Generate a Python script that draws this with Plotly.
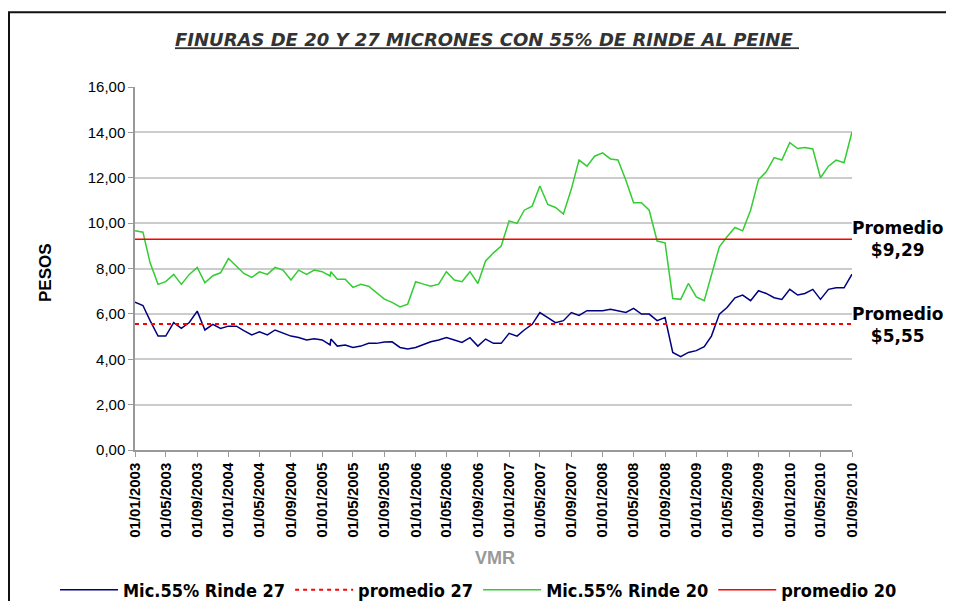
import plotly.graph_objects as go

# ---- data ----
fechas = [
    "2003-01-01", "2003-02-01", "2003-03-01", "2003-04-01", "2003-05-01", "2003-06-01",
    "2003-07-01", "2003-08-01", "2003-09-01", "2003-10-01", "2003-11-01", "2003-12-01",
    "2004-01-01", "2004-02-01", "2004-03-01", "2004-04-01", "2004-05-01", "2004-06-01",
    "2004-07-01", "2004-08-01", "2004-09-01", "2004-10-01", "2004-11-01", "2004-12-01",
    "2005-01-01", "2005-02-01", "2005-02-04", "2005-03-01", "2005-04-01", "2005-05-01",
    "2005-06-01", "2005-07-01", "2005-08-01", "2005-09-01", "2005-10-01", "2005-11-01",
    "2005-12-01", "2006-01-01", "2006-02-01", "2006-03-01", "2006-04-01", "2006-05-01",
    "2006-06-01", "2006-07-01", "2006-08-01", "2006-09-01", "2006-10-01", "2006-11-01",
    "2006-12-01", "2007-01-01", "2007-02-01", "2007-03-01", "2007-04-01", "2007-05-01",
    "2007-06-01", "2007-07-01", "2007-08-01", "2007-09-01", "2007-10-01", "2007-11-01",
    "2007-12-01", "2008-01-01", "2008-02-01", "2008-03-01", "2008-04-01", "2008-05-01",
    "2008-06-01", "2008-07-01", "2008-08-01", "2008-09-01", "2008-10-01", "2008-11-01",
    "2008-12-01", "2009-01-01", "2009-02-01", "2009-03-01", "2009-04-01", "2009-05-01",
    "2009-06-01", "2009-07-01", "2009-08-01", "2009-09-01", "2009-10-01", "2009-11-01",
    "2009-12-01", "2010-01-01", "2010-02-01", "2010-03-01", "2010-04-01", "2010-05-01",
    "2010-06-01", "2010-07-01", "2010-08-01", "2010-09-01",
]

rinde_27 = [
    6.51, 6.37, 5.70, 5.02, 5.02, 5.61, 5.36, 5.62, 6.12, 5.29, 5.54, 5.36,
    5.46, 5.46, 5.26, 5.07, 5.21, 5.07, 5.29, 5.14, 5.02, 4.96, 4.85, 4.90,
    4.85, 4.63, 4.89, 4.58, 4.63, 4.52, 4.58, 4.70, 4.70, 4.76, 4.77, 4.52,
    4.45, 4.52, 4.65, 4.77, 4.85, 4.96, 4.85, 4.74, 4.95, 4.58, 4.89, 4.70,
    4.70, 5.14, 5.02, 5.29, 5.54, 6.06, 5.83, 5.61, 5.70, 6.06, 5.93, 6.14,
    6.14, 6.14, 6.20, 6.14, 6.06, 6.24, 5.99, 5.99, 5.70, 5.84, 4.30, 4.11,
    4.30, 4.38, 4.55, 5.02, 5.99, 6.28, 6.71, 6.83, 6.58, 7.02, 6.90, 6.71,
    6.64, 7.08, 6.83, 6.90, 7.08, 6.64, 7.08, 7.15, 7.15, 7.75,
]

rinde_20 = [
    9.66, 9.60, 8.25, 7.30, 7.42, 7.74, 7.30, 7.74, 8.05, 7.37, 7.68, 7.81,
    8.44, 8.11, 7.78, 7.61, 7.85, 7.74, 8.05, 7.93, 7.49, 7.93, 7.74, 7.93,
    7.86, 7.67, 7.86, 7.53, 7.53, 7.17, 7.30, 7.22, 6.95, 6.65, 6.51, 6.31,
    6.43, 7.42, 7.31, 7.22, 7.31, 7.86, 7.49, 7.42, 7.86, 7.34, 8.33, 8.69,
    8.99, 10.10, 9.99, 10.57, 10.75, 11.64, 10.82, 10.69, 10.40, 11.50, 12.78, 12.51,
    12.95, 13.10, 12.83, 12.78, 11.89, 10.90, 10.90, 10.57, 9.21, 9.13, 6.68, 6.64,
    7.34, 6.75, 6.58, 7.71, 8.96, 9.40, 9.81, 9.66, 10.57, 11.92, 12.26, 12.89,
    12.78, 13.55, 13.29, 13.33, 13.27, 12.00, 12.51, 12.78, 12.66, 14.02,
]

promedio_27 = 5.55
promedio_20 = 9.29

tick_fechas = [
    "2003-01-01", "2003-05-01", "2003-09-01", "2004-01-01", "2004-05-01", "2004-09-01",
    "2005-01-01", "2005-05-01", "2005-09-01", "2006-01-01", "2006-05-01", "2006-09-01",
    "2007-01-01", "2007-05-01", "2007-09-01", "2008-01-01", "2008-05-01", "2008-09-01",
    "2009-01-01", "2009-05-01", "2009-09-01", "2010-01-01", "2010-05-01", "2010-09-01",
]
tick_textos = [
    "01/01/2003", "01/05/2003", "01/09/2003", "01/01/2004", "01/05/2004", "01/09/2004",
    "01/01/2005", "01/05/2005", "01/09/2005", "01/01/2006", "01/05/2006", "01/09/2006",
    "01/01/2007", "01/05/2007", "01/09/2007", "01/01/2008", "01/05/2008", "01/09/2008",
    "01/01/2009", "01/05/2009", "01/09/2009", "01/01/2010", "01/05/2010", "01/09/2010",
]
y_ticks = [0, 2, 4, 6, 8, 10, 12, 14, 16]
y_textos = ["0,00", "2,00", "4,00", "6,00", "8,00", "10,00", "12,00", "14,00", "16,00"]

# ---- figure (page body has an 8px offset) ----
OX, OY = 8, 8
W, H = 954, 601
L, T = 135 - OX, 87 - OY
R = W - (852 - OX)
B = H - (450 - OY)
pw, ph = W - L - R, H - T - B

def px_x(sx):
    return (sx - OX - L) / pw

def px_y(sy):
    return (H - B - (sy - OY)) / ph

fig = go.Figure()
fig.add_trace(go.Scatter(x=fechas, y=rinde_27, mode="lines", name="Mic.55% Rinde 27",
                         line=dict(color="#000080", width=1.5)))
fig.add_trace(go.Scatter(x=[fechas[0], fechas[-1]], y=[promedio_27, promedio_27], mode="lines",
                         name="promedio 27", line=dict(color="#ff0000", width=2, dash="4px,4px")))
fig.add_trace(go.Scatter(x=fechas, y=rinde_20, mode="lines", name="Mic.55% Rinde 20",
                         line=dict(color="#33cc33", width=1.5)))
fig.add_trace(go.Scatter(x=[fechas[0], fechas[-1]], y=[promedio_20, promedio_20], mode="lines",
                         name="promedio 20", line=dict(color="#ff0000", width=1.5)))

fig.update_layout(
    width=W, height=H,
    margin=dict(l=L, r=R, t=T, b=B, autoexpand=False),
    paper_bgcolor="white", plot_bgcolor="white",
    title=dict(text="<b><i><u>FINURAS DE 20 Y 27 MICRONES CON 55% DE RINDE AL PEINE </u></i></b>",
               font=dict(family="DejaVu Sans", size=18, color="#333333"),
               x=px_x(487), xref="paper", xanchor="center",
               y=1 - (40 - OY) / H, yref="container", yanchor="middle"),
    showlegend=True,
    legend=dict(orientation="h", x=px_x(55), y=px_y(590), xanchor="left", yanchor="middle",
                font=dict(family="DejaVu Sans Condensed", size=18, color="#000000", weight="bold"),
                itemwidth=58, bgcolor="rgba(0,0,0,0)", tracegroupgap=0),
    xaxis=dict(type="date", range=[fechas[0], fechas[-1]],
               tickmode="array", tickvals=tick_fechas,
               ticktext=["<b>" + t + "</b>" for t in tick_textos],
               tickangle=-90, tickfont=dict(family="Liberation Sans", size=15, color="#000000"),
               ticks="outside", ticklen=5, tickcolor="#999999",
               showline=True, linecolor="#999999", linewidth=1.5,
               showgrid=False, zeroline=False),
    yaxis=dict(range=[0, 16], tickmode="array", tickvals=y_ticks, ticktext=y_textos,
               tickfont=dict(family="Liberation Sans", size=15, color="#000000"),
               ticks="outside", ticklen=5, tickcolor="#999999",
               showline=True, linecolor="#999999", linewidth=1.5,
               showgrid=True, gridcolor="#cccccc", gridwidth=1.5, zeroline=False),
    shapes=[dict(type="rect", xref="paper", yref="paper",
                 x0=px_x(9), x1=px_x(1000), y0=px_y(650), y1=px_y(12.3),
                 line=dict(color="#111111", width=2), fillcolor="rgba(0,0,0,0)", layer="below")],
    annotations=[
        dict(text="<b>PESOS</b>", xref="paper", yref="paper", x=px_x(45), y=px_y(273),
             textangle=-90, showarrow=False,
             font=dict(family="Liberation Sans", size=17, color="#000000"),
             xanchor="center", yanchor="middle"),
        dict(text="<b>VMR</b>", xref="paper", yref="paper", x=px_x(495), y=px_y(558),
             showarrow=False, font=dict(family="Liberation Sans", size=18, color="#999999"),
             xanchor="center", yanchor="middle"),
        dict(text="<b>Promedio<br>$9,29</b>", xref="paper", yref="paper", x=px_x(897), y=px_y(239),
             showarrow=False, font=dict(family="DejaVu Sans", size=17, color="#000000"),
             xanchor="center", yanchor="middle"),
        dict(text="<b>Promedio<br>$5,55</b>", xref="paper", yref="paper", x=px_x(897), y=px_y(325),
             showarrow=False, font=dict(family="DejaVu Sans", size=17, color="#000000"),
             xanchor="center", yanchor="middle"),
    ],
)

fig.write_html("out.html")
